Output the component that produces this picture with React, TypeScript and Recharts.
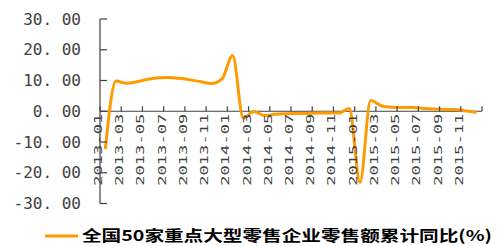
import { ComposedChart, Line, XAxis, YAxis, ReferenceLine, Legend } from 'recharts'

const MONTHS = [
  '2013-01', '2013-02', '2013-03', '2013-04', '2013-05', '2013-06',
  '2013-07', '2013-08', '2013-09', '2013-10', '2013-11', '2013-12',
  '2014-01', '2014-02', '2014-03', '2014-04', '2014-05', '2014-06',
  '2014-07', '2014-08', '2014-09', '2014-10', '2014-11', '2014-12',
  '2015-01', '2015-02', '2015-03', '2015-04', '2015-05', '2015-06',
  '2015-07', '2015-08', '2015-09', '2015-10', '2015-11', '2015-12',
]
const GROWTH = [
  -12.3, 9.8, 9.1, 9.6, 10.4, 10.9, 11.0, 10.7, 10.2, 9.6, 9.0, 10.5,
  18.1, -2.2, -0.1, -1.4, -1.0, -0.8, -0.7, -0.7, -0.6, -0.6, -0.6, 0.9,
  -23.2, 3.5, 1.8, 1.3, 1.2, 1.2, 0.9, 0.7, 0.6, 0.6, 0.1, -0.3,
]
const Y_TICKS = [-30, -20, -10, 0, 10, 20, 30]
const SERIES_NAME = '全国50家重点大型零售企业零售额累计同比(%)'

const ORANGE = '#ff9a00'
const AXIS = '#404040'
const PLOT_H = 184.5

const data = MONTHS.map((m, i) => ({ pos: i + 0.5, month: m, value: GROWTH[i] }))
const xTicks = MONTHS.map((_, i) => i).filter((i) => i % 2 === 0).concat([MONTHS.length])

const YTick = ({ x, y, payload }: any) => {
  const s = Number(payload.value).toFixed(2).replace('.', '. ')
  return (
    <text x={x} y={y} textAnchor="end" dominantBaseline="central" fill="#404040"
      fontFamily="DejaVu Sans Mono" fontSize={16}>
      {s}
    </text>
  )
}

// category axis sits on the zero line: tick mark points up, label hangs below
const XTick = ({ x, y, payload }: any) => {
  const zy = y - PLOT_H / 2
  const label = MONTHS[payload.value]
  return (
    <g>
      <line x1={x} x2={x} y1={zy} y2={zy - 5} stroke={AXIS} strokeWidth={1.2} />
      {label && payload.value < MONTHS.length && (
        <text transform={`translate(${x - 1.5},${zy + 2.5}) rotate(-90)`} textAnchor="end"
          dominantBaseline="central" fill="#404040" fontFamily="DejaVu Sans Mono" fontSize={11}
          textLength={72} lengthAdjust="spacingAndGlyphs">
          {label}
        </text>
      )}
    </g>
  )
}

// legend drawn as a tiny svg: short orange stroke + bold, wide-set caption
const renderLegend = () => (
  <svg width={455} height={20} style={{ display: 'block', overflow: 'visible' }}>
    <line x1={0} x2={33} y1={10} y2={10} stroke={ORANGE} strokeWidth={3} />
    <text x={37} y={15} fill="#000" fontFamily="Noto Sans CJK SC"
      fontWeight={700} fontSize={15} textLength={410} lengthAdjust="spacingAndGlyphs">
      {SERIES_NAME}
    </text>
  </svg>
)

export default function App() {
  return (
    <ComposedChart width={493} height={238} data={data}
      margin={{ top: 11, right: 19, left: 0, bottom: 12.5 }}>
      <XAxis dataKey="pos" type="number" domain={[0, MONTHS.length]} ticks={xTicks} interval={0}
        axisLine={false} tickLine={false} tickSize={0} tickMargin={0} height={30} tick={<XTick />} />
      <YAxis type="number" domain={[-30, 30]} ticks={Y_TICKS} interval={0} width={92}
        axisLine={{ stroke: AXIS, strokeWidth: 1.2 }} tickLine={{ stroke: AXIS, strokeWidth: 1.2 }}
        tickSize={-7} tickMargin={26} tick={<YTick />} />
      <ReferenceLine y={0} stroke={AXIS} strokeWidth={1.2} />
      <Line type="monotone" dataKey="value" name={SERIES_NAME} stroke={ORANGE} strokeWidth={3}
        dot={false} isAnimationActive={false} />
      <Legend layout="horizontal" verticalAlign="middle" align="center" content={renderLegend}
        wrapperStyle={{ left: 37, top: 217.5, width: 455, height: 20, margin: 0, padding: 0 }} />
    </ComposedChart>
  )
}
